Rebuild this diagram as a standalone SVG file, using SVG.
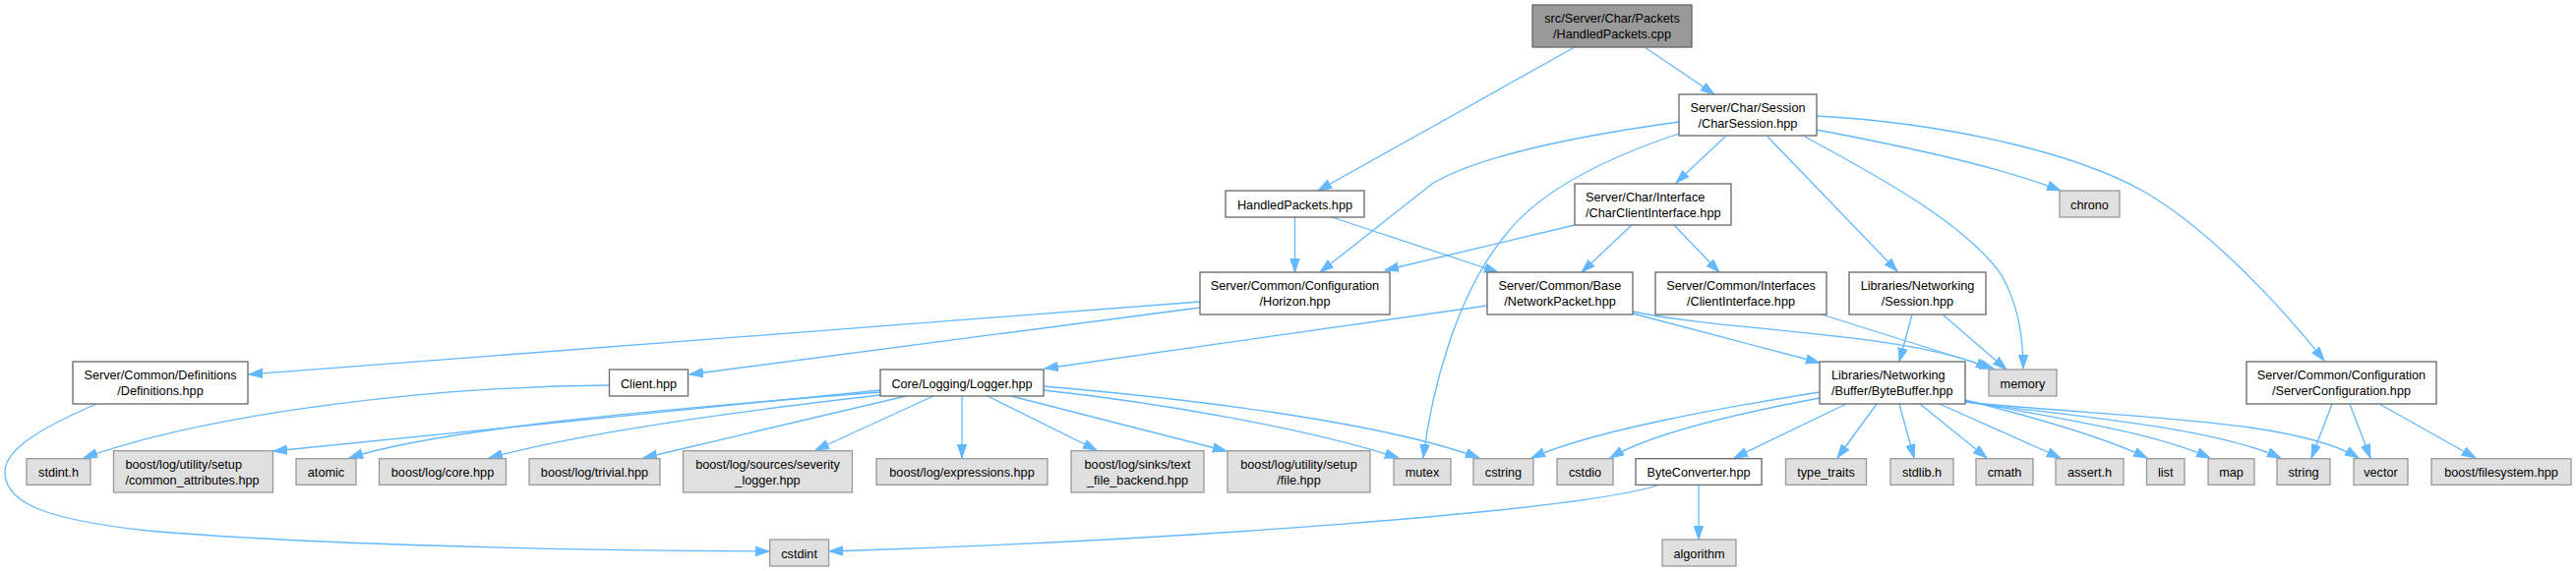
<svg xmlns="http://www.w3.org/2000/svg" width="2619" height="581" viewBox="0 0 2619 581">
<style>
.n rect{fill:#ffffff;stroke:#666666;stroke-width:1.3}
.x rect{fill:#e0e0e0;stroke:#999999;stroke-width:1.3}
.r rect{fill:#999999;stroke:#666666;stroke-width:1.3}
text{font-family:"Liberation Sans",Arial,Helvetica,sans-serif;font-size:12.7px;fill:#000000}
.c{text-anchor:middle}
#edges path{fill:none;stroke:#63b8ff;stroke-width:1.3;marker-end:url(#arr)}
</style>
<defs>
<marker id="arr" markerUnits="userSpaceOnUse" markerWidth="16" markerHeight="12" refX="14" refY="5" orient="auto">
<path d="M0,0.3 L14,5 L0,9.7 z" fill="#63b8ff" stroke="#63b8ff" stroke-width="1"/>
</marker>
</defs>
<rect width="2619" height="581" fill="#ffffff"/>
<g id="edges">
<path d="M1601,48 L1340,194"/>
<path d="M1672,48 L1743,96"/>
<path d="M1847,132 C1920,146 2030,168 2095,194"/>
<path d="M1847,118 C1960,124 2100,150 2180,195 C2240,230 2310,300 2363,367"/>
<path d="M1835,139 C1920,185 2000,230 2035,280 C2052,310 2057,345 2057,375"/>
<path d="M1797,139 L1929,276"/>
<path d="M1754,139 L1704,186"/>
<path d="M1707,124 C1620,136 1510,155 1456,187 L1342,277"/>
<path d="M1707,136 C1620,165 1560,200 1530,240 C1480,300 1455,400 1447,466"/>
<path d="M1316.5,221 L1316.5,277"/>
<path d="M1354,221 L1523,277"/>
<path d="M1601,229 L1408,275"/>
<path d="M1659,229 L1608,277"/>
<path d="M1702,229 L1748,277"/>
<path d="M1220,307 L253,381"/>
<path d="M1220,313 L701,381"/>
<path d="M1512,311 L1062,375"/>
<path d="M1660,319 L1850,369"/>
<path d="M1660,317 C1760,338 1940,338 2023,375"/>
<path d="M1852,320 L2027,375"/>
<path d="M1975,320 L2040,376"/>
<path d="M1944,320 L1931,368"/>
<path d="M98,411 C50,432 5,455 5,480 C5,510 40,528 150,540 C300,553 550,560 782,561"/>
<path d="M620,392 C450,393 220,418 85,466"/>
<path d="M895,397 L278,459"/>
<path d="M895,399 C700,414 450,435 355,466"/>
<path d="M895,402 C780,415 600,438 497,466"/>
<path d="M921,403 L654,466"/>
<path d="M949,403 L829,458"/>
<path d="M978,403 L978,466"/>
<path d="M1004,403 L1115,458"/>
<path d="M1028,403 L1247,459"/>
<path d="M1061,397 C1180,410 1330,436 1422,466"/>
<path d="M1061,393 C1200,405 1400,428 1504,466"/>
<path d="M1850,399 C1750,415 1620,438 1557,466"/>
<path d="M1850,405 C1770,420 1680,440 1637,466"/>
<path d="M1877,411 L1763,466"/>
<path d="M1908,411 L1868,466"/>
<path d="M1931,411 L1946,466"/>
<path d="M1952,411 L2020,466"/>
<path d="M1972,411 L2095,466"/>
<path d="M1998,407 C2070,425 2140,445 2183,466"/>
<path d="M1998,408 C2090,425 2190,440 2247,466"/>
<path d="M1998,409 C2120,425 2250,435 2319,466"/>
<path d="M1998,409 C2150,425 2330,425 2398,466"/>
<path d="M2371,411 L2350,466"/>
<path d="M2389,411 L2410,466"/>
<path d="M2419,411 L2517,466"/>
<path d="M1685,494 C1600,520 1200,550 843,561"/>
<path d="M1727,494 L1727,549"/>
</g>
<g id="root" class="r"><rect x="1558" y="5" width="162" height="43"/><text class="c" x="1639" y="23">src/Server/Char/Packets</text><text class="c" x="1639" y="39">/HandledPackets.cpp</text></g>
<g id="n_charsession" class="n"><rect x="1707" y="96" width="140" height="42"/><text class="c" x="1777" y="114">Server/Char/Session</text><text class="c" x="1777" y="130">/CharSession.hpp</text></g>
<g id="n_handledpackets_hpp" class="n"><rect x="1246" y="194" width="141" height="27"/><text class="c" x="1316.5" y="212.5">HandledPackets.hpp</text></g>
<g id="n_charclientinterface" class="n"><rect x="1601" y="187" width="159" height="42"/><text x="1612" y="205">Server/Char/Interface</text><text x="1612" y="221">/CharClientInterface.hpp</text></g>
<g id="n_chrono" class="x"><rect x="2094" y="194" width="61" height="27"/><text class="c" x="2124.5" y="212.5">chrono</text></g>
<g id="n_horizon" class="n"><rect x="1220" y="277" width="193" height="43"/><text class="c" x="1316.5" y="295">Server/Common/Configuration</text><text class="c" x="1316.5" y="311">/Horizon.hpp</text></g>
<g id="n_networkpacket" class="n"><rect x="1512" y="277" width="148" height="43"/><text class="c" x="1586" y="295">Server/Common/Base</text><text class="c" x="1586" y="311">/NetworkPacket.hpp</text></g>
<g id="n_clientinterface" class="n"><rect x="1683" y="277" width="174" height="43"/><text class="c" x="1770" y="295">Server/Common/Interfaces</text><text class="c" x="1770" y="311">/ClientInterface.hpp</text></g>
<g id="n_session" class="n"><rect x="1880" y="277" width="139" height="43"/><text class="c" x="1949.5" y="295">Libraries/Networking</text><text class="c" x="1949.5" y="311">/Session.hpp</text></g>
<g id="n_definitions" class="n"><rect x="74" y="368" width="178" height="43"/><text class="c" x="163" y="386">Server/Common/Definitions</text><text class="c" x="163" y="402">/Definitions.hpp</text></g>
<g id="n_client" class="n"><rect x="619.5" y="376" width="80" height="27"/><text class="c" x="659.5" y="394.5">Client.hpp</text></g>
<g id="n_logger" class="n"><rect x="895" y="376" width="166" height="27"/><text class="c" x="978" y="394.5">Core/Logging/Logger.hpp</text></g>
<g id="n_bytebuffer" class="n"><rect x="1850" y="368" width="148" height="43"/><text x="1862" y="386">Libraries/Networking</text><text x="1862" y="402">/Buffer/ByteBuffer.hpp</text></g>
<g id="n_memory" class="x"><rect x="2022" y="376" width="69" height="27"/><text class="c" x="2056.5" y="394.5">memory</text></g>
<g id="n_serverconfiguration" class="n"><rect x="2284" y="368" width="193" height="43"/><text class="c" x="2380.5" y="386">Server/Common/Configuration</text><text class="c" x="2380.5" y="402">/ServerConfiguration.hpp</text></g>
<g id="n_stdint_h" class="x"><rect x="27" y="466.7" width="65" height="26.7"/><text class="c" x="59.5" y="485">stdint.h</text></g>
<g id="n_common_attributes" class="x"><rect x="115.5" y="458.7" width="162" height="42.3"/><text x="127.5" y="476.5">boost/log/utility/setup</text><text x="127.5" y="492.5">/common_attributes.hpp</text></g>
<g id="n_atomic" class="x"><rect x="301" y="466.7" width="61" height="26.7"/><text class="c" x="331.5" y="485">atomic</text></g>
<g id="n_core" class="x"><rect x="385.5" y="466.7" width="129" height="26.7"/><text class="c" x="450" y="485">boost/log/core.hpp</text></g>
<g id="n_trivial" class="x"><rect x="538" y="466.7" width="133" height="26.7"/><text class="c" x="604.5" y="485">boost/log/trivial.hpp</text></g>
<g id="n_severity_logger" class="x"><rect x="694.5" y="458.7" width="172" height="42.3"/><text class="c" x="780.5" y="476.5">boost/log/sources/severity</text><text class="c" x="780.5" y="492.5">_logger.hpp</text></g>
<g id="n_expressions" class="x"><rect x="891" y="466.7" width="174" height="26.7"/><text class="c" x="978" y="485">boost/log/expressions.hpp</text></g>
<g id="n_text_file_backend" class="x"><rect x="1089" y="458.7" width="135" height="42.3"/><text class="c" x="1156.5" y="476.5">boost/log/sinks/text</text><text class="c" x="1156.5" y="492.5">_file_backend.hpp</text></g>
<g id="n_file_hpp" class="x"><rect x="1248" y="458.7" width="145" height="42.3"/><text class="c" x="1320.5" y="476.5">boost/log/utility/setup</text><text class="c" x="1320.5" y="492.5">/file.hpp</text></g>
<g id="n_mutex" class="x"><rect x="1417" y="466.7" width="58" height="26.7"/><text class="c" x="1446" y="485">mutex</text></g>
<g id="n_cstring" class="x"><rect x="1498" y="466.7" width="61" height="26.7"/><text class="c" x="1528.5" y="485">cstring</text></g>
<g id="n_cstdio" class="x"><rect x="1583" y="466.7" width="57" height="26.7"/><text class="c" x="1611.5" y="485">cstdio</text></g>
<g id="n_byteconverter" class="n"><rect x="1663" y="466.7" width="128" height="26.7"/><text class="c" x="1727" y="485">ByteConverter.hpp</text></g>
<g id="n_type_traits" class="x"><rect x="1815.5" y="466.7" width="82" height="26.7"/><text class="c" x="1856.5" y="485">type_traits</text></g>
<g id="n_stdlib_h" class="x"><rect x="1922" y="466.7" width="64" height="26.7"/><text class="c" x="1954" y="485">stdlib.h</text></g>
<g id="n_cmath" class="x"><rect x="2009" y="466.7" width="58" height="26.7"/><text class="c" x="2038" y="485">cmath</text></g>
<g id="n_assert_h" class="x"><rect x="2090" y="466.7" width="69" height="26.7"/><text class="c" x="2124.5" y="485">assert.h</text></g>
<g id="n_list" class="x"><rect x="2182.5" y="466.7" width="38.5" height="26.7"/><text class="c" x="2201.7" y="485">list</text></g>
<g id="n_map" class="x"><rect x="2245" y="466.7" width="47" height="26.7"/><text class="c" x="2268.5" y="485">map</text></g>
<g id="n_string" class="x"><rect x="2315" y="466.7" width="54" height="26.7"/><text class="c" x="2342" y="485">string</text></g>
<g id="n_vector" class="x"><rect x="2393" y="466.7" width="55" height="26.7"/><text class="c" x="2420.5" y="485">vector</text></g>
<g id="n_filesystem" class="x"><rect x="2472" y="466.7" width="142" height="26.7"/><text class="c" x="2543" y="485">boost/filesystem.hpp</text></g>
<g id="n_cstdint" class="x"><rect x="782.6" y="549" width="60" height="27"/><text class="c" x="812.6" y="567.5">cstdint</text></g>
<g id="n_algorithm" class="x"><rect x="1690" y="549" width="75" height="27"/><text class="c" x="1727.5" y="567.5">algorithm</text></g>
</svg>
